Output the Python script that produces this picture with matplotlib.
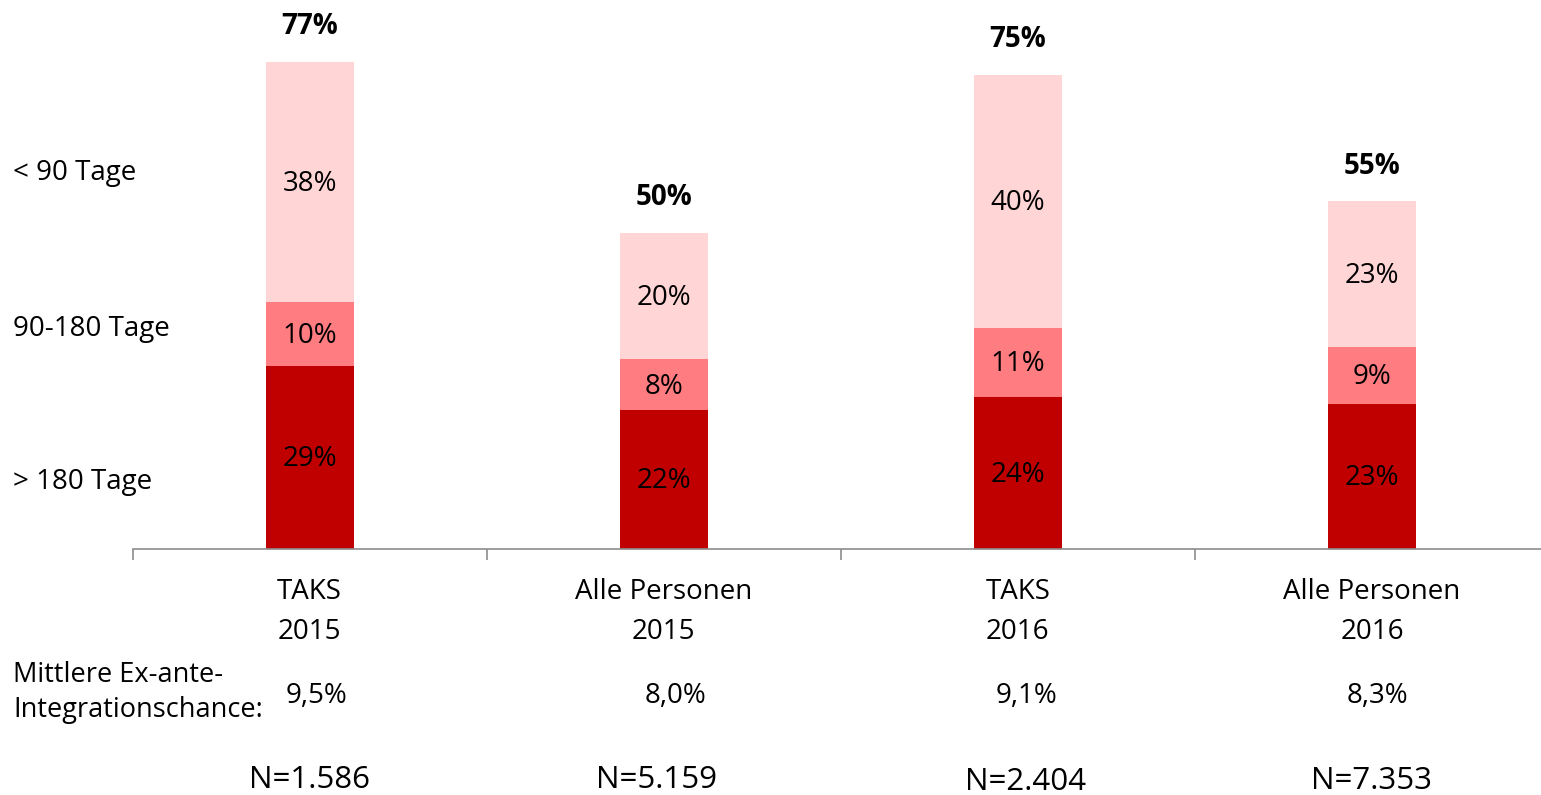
import matplotlib
matplotlib.use("Agg")
import matplotlib.pyplot as plt
import numpy as np

plt.rcParams['font.family'] = ['Open Sans', 'DejaVu Sans']

categories = ["TAKS\n2015", "Alle Personen\n2015", "TAKS\n2016", "Alle Personen\n2016"]
over180 = [29, 22, 24, 23]
d90_180 = [10, 8, 11, 9]
under90 = [38, 20, 40, 23]
totals = [77, 50, 75, 55]
chance = ["9,5%", "8,0%", "9,1%", "8,3%"]
n_labels = ["N=1.586", "N=5.159", "N=2.404", "N=7.353"]
series_names = ["> 180 Tage", "90-180 Tage", "< 90 Tage"]

colors = ["#C00000", "#FF7C80", "#FFD5D5"]

W, H = 1541, 795
fig = plt.figure(figsize=(W / 100, H / 100), dpi=100)
FS = 20
DY = 2  # small downward shift for visual centering

def fx(x):
    return x / W

def fy(y):
    return 1 - (y + DY) / H

left_px, right_px = 132.5, 1549
bottom_px = 549
px_per_unit = 6.325
ymax = 80
ax = fig.add_axes([fx(left_px), 1 - bottom_px / H, (right_px - left_px) / W, ymax * px_per_unit / H])
ax.set_xlim(-0.5, 3.5)
ax.set_ylim(0, ymax)

x = np.arange(len(categories))
bw = 88 / 354.4
bottoms = np.zeros(len(categories))
for vals, col in zip([over180, d90_180, under90], colors):
    vals = np.array(vals, dtype=float)
    ax.bar(x, vals, bw, bottom=bottoms, color=col, edgecolor='none', zorder=2)
    for xi, b, v in zip(x, bottoms, vals):
        ax.annotate(f"{int(v)}%", (xi, b + v / 2), xytext=(0, -DY), textcoords='offset pixels',
                    ha='center', va='center', fontsize=FS, color='black', zorder=3)
    bottoms += vals

for xi, t in zip(x, totals):
    ax.annotate(f"{t}%", (xi, t), xytext=(0, 37 - DY), textcoords='offset pixels',
                ha='center', va='center', fontsize=FS, fontweight='bold')

for s in ['top', 'right', 'left']:
    ax.spines[s].set_visible(False)
ax.spines['bottom'].set_color('#8c8c8c')
ax.spines['bottom'].set_linewidth(1.2)
ax.set_yticks([])
ax.set_xticks([-0.5, 0.5, 1.5, 2.5])
ax.set_xticklabels([])
ax.tick_params(axis='x', length=8, color='#8c8c8c', width=1.2, direction='out')

# category labels
for xi, lab in zip(x, categories):
    l1, l2 = lab.split("\n")
    ax.annotate(l1, (xi, 0), xytext=(0, -41 - DY), textcoords='offset pixels', ha='center', va='center', fontsize=FS)
    ax.annotate(l2, (xi, 0), xytext=(0, -81 - DY), textcoords='offset pixels', ha='center', va='center', fontsize=FS)

# left series labels
for name, yy in zip(series_names, [480, 327, 171]):
    fig.text(fx(13), fy(yy), name, ha='left', va='center', fontsize=FS)

fig.text(fx(13), fy(673), "Mittlere Ex-ante-", ha='left', va='center', fontsize=19.5)
fig.text(fx(13), fy(708), "Integrationschance:", ha='left', va='center', fontsize=19.5)

chance_dx = [7, 12, 9, 5]
for xi, c, dx in zip(x, chance, chance_dx):
    ax.annotate(c, (xi, 0), xytext=(dx, -(694 - 549) - DY), textcoords='offset pixels', ha='center', va='center', fontsize=FS)

n_off = [(0, 778), (-7, 778), (8, 780), (0, 779)]
for xi, n, (dx, yy) in zip(x, n_labels, n_off):
    ax.annotate(n, (xi, 0), xytext=(dx, -(yy - 549) - DY), textcoords='offset pixels', ha='center', va='center', fontsize=22.5)

fig.savefig("out.png", dpi=100)
